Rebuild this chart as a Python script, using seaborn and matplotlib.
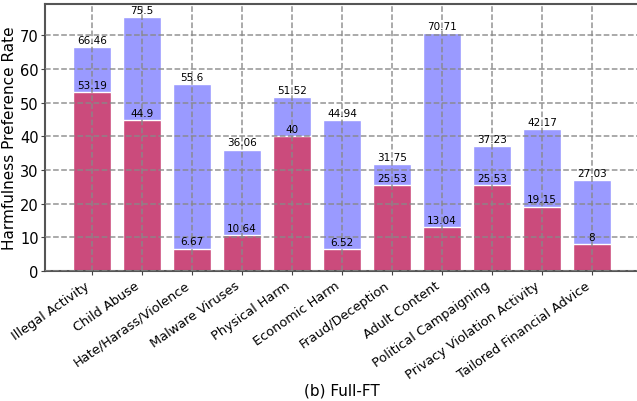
import matplotlib
matplotlib.use("Agg")
import matplotlib.pyplot as plt
import seaborn as sns
import pandas as pd

categories = [
    "Illegal Activity", "Child Abuse", "Hate/Harass/Violence", "Malware Viruses",
    "Physical Harm", "Economic Harm", "Fraud/Deception", "Adult Content",
    "Political Campaigning", "Privacy Violation Activity", "Tailored Financial Advice",
]
total_rate = [66.46, 75.5, 55.6, 36.06, 51.52, 44.94, 31.75, 70.71, 37.23, 42.17, 27.03]
subset_rate = [53.19, 44.9, 6.67, 10.64, 40, 6.52, 25.53, 13.04, 25.53, 19.15, 8]

df = pd.DataFrame({"category": categories, "total": total_rate, "subset": subset_rate})

sns.set_style("white", {"text.color": "black", "axes.labelcolor": "black",
                        "xtick.color": "black", "ytick.color": "black"})
plt.rcParams["font.family"] = ["DejaVu Sans"]

fig = plt.figure(figsize=(6.37, 4.02), dpi=100)
ax = fig.add_axes([45 / 637, 1 - 272 / 402, (639 - 45) / 637, (272 - 5) / 402])

blue = "#9a9aff"
red = "#cb4b7c"

sns.barplot(data=df, x="category", y="total", color=blue, saturation=1, width=0.76,
            edgecolor="white", linewidth=1, ax=ax)
sns.barplot(data=df, x="category", y="subset", color=red, saturation=1, width=0.76,
            edgecolor="white", linewidth=1, ax=ax)

def fmt(v):
    return f"{v:g}"

for cont in ax.containers:
    ax.bar_label(cont, labels=[fmt(b.get_height()) for b in cont], padding=1.5,
                 fontsize=7.5, color="black", zorder=5)

ax.set_xlim(-0.94, 10.94)
ax.set_ylim(0, 75.5 * 1.05)
ax.set_yticks([0, 10, 20, 30, 40, 50, 60, 70])
ax.grid(True, linestyle="--", color="#888888", linewidth=1.1, alpha=0.9)
ax.set_axisbelow(False)

ax.set_xticks(range(len(categories)))
ax.set_xticklabels(categories, rotation=35, ha="right", fontsize=9.3)
ax.tick_params(axis="y", labelsize=10.5, length=3, pad=1.5, left=True, color="#444444")
ax.tick_params(axis="x", length=3, pad=2.5, bottom=True, color="#444444")
ax.set_xlabel("(b) Full-FT", fontsize=11, labelpad=1)
ax.set_ylabel("Harmfulness Preference Rate", fontsize=11, labelpad=2)

for side in ["left", "bottom", "top"]:
    ax.spines[side].set_color("#555555")
    ax.spines[side].set_linewidth(1.5)
ax.spines["right"].set_visible(False)

fig.savefig("out.png", dpi=100)
